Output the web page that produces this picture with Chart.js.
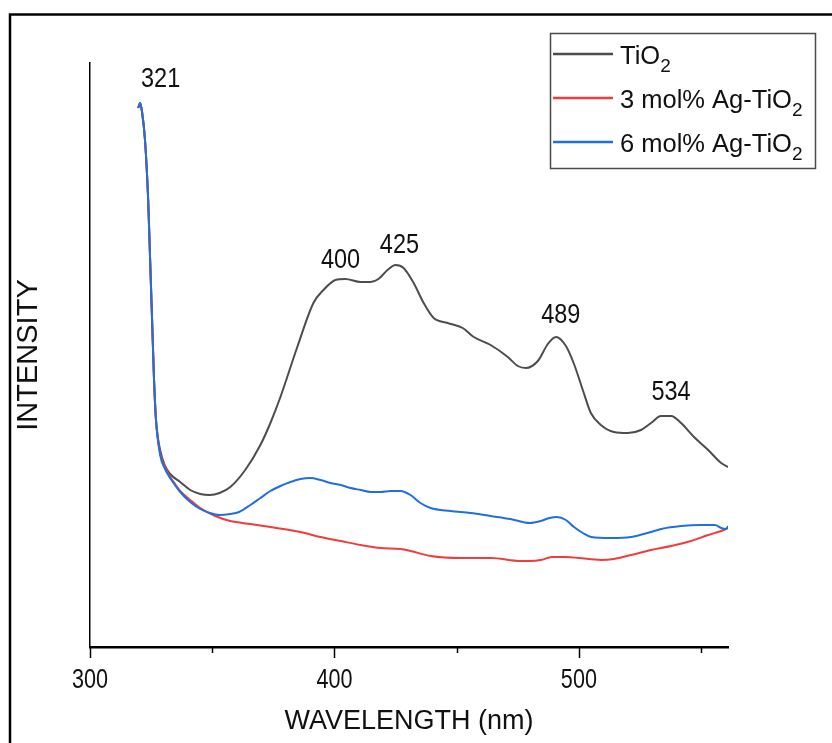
<!DOCTYPE html>
<html>
<head>
<meta charset="utf-8">
<script src="https://cdn.jsdelivr.net/npm/chart.js@4"></script>
<style>
html,body{margin:0;padding:0;background:#fff;}
#c{display:block;}
</style>
</head>
<body>
<canvas id="c" width="832" height="743"></canvas>
<script>
// ---- data (x: wavelength nm, y: intensity, arbitrary units) ----
const seriesNames = ['TiO₂', '3 mol% Ag-TiO₂', '6 mol% Ag-TiO₂'];
const seriesColors = ['#4d4d4d', '#f03c3c', '#1f6fe0'];

const wlTiO2 = [319.7,320.5,321.3,322.5,323.8,324.6,325.4,326.2,327.0,328.7,330.7,332.8,336.9,341.0,345.1,349.0,353.0,357.4,363.5,369.7,373.8,377.9,384.8,391.4,395.5,400.4,404.5,410.7,414.8,418.0,421.7,425.0,428.3,432.4,436.5,440.6,446.3,452.5,457.0,463.9,470.9,475.0,478.3,483.2,487.3,490.6,494.7,498.0,501.6,504.9,509.0,514.3,520.1,525.4,529.5,533.6,537.7,541.8,547.1,552.9,558.2,561.1];
const inTiO2 = [539,544,535,507,447,387,327,267,227,197,181,173,165,157,153,152,154,160,177,202,224,250,300,344,357,367,368,365,365,368,377,382,379,364,344,329,324,319,310,302,290,281,279,286,303,310,301,283,257,234,222,215,214,217,224,231,231,224,210,197,184,180];

const wlAg3 = [319.7,320.5,321.3,322.5,323.8,324.6,325.4,326.2,327.0,328.7,330.7,332.8,334.8,336.9,341.0,345.1,351.2,357.4,365.6,373.8,386.1,394.3,402.5,410.7,418.9,427.0,431.1,439.3,451.6,463.9,476.2,480.0,484.4,489.0,494.7,500.0,509.0,514.3,521.3,529.5,537.7,545.9,552.9,558.2,561.1];
const inAg3 = [539,544,535,507,447,387,327,267,227,194,180,170,163,156,147,139,131,126,123,120,115,110,106,102,99,98,96,91,89,89,86,86,87,90,90,89,87,88,92,97,101,106,112,116,119];

const wlAg6 = [319.7,320.5,321.3,322.5,323.8,324.6,325.4,326.2,327.0,328.7,330.7,332.8,336.9,341.0,345.1,349.0,353.0,357.4,361.0,365.6,369.7,373.8,377.9,382.0,386.1,390.2,394.3,398.4,402.5,406.6,410.7,414.8,418.9,423.0,427.0,431.1,435.2,439.3,447.5,455.7,463.9,472.0,480.0,484.4,488.0,491.0,494.7,498.0,501.6,505.0,513.1,521.3,529.5,533.6,541.8,550.0,555.7,558.2,560.2,561.1];
const inAg6 = [539,544,535,507,447,387,327,267,227,192,178,169,155,145,138,134,132,133,135,142,149,156,161,165,168,169,167,164,162,159,157,155,155,156,156,152,144,139,136,134,131,128,124,126,129,130,127,120,114,110,109,110,115,118,121,122,122,119,118,121];

const majorTicks = [300, 400, 500];
const minorTicks = [350, 450, 550];
const xMin = 300, xMax = 561;
const yMin = 0, yMax = 584;

const peakLabels = ['321', '400', '425', '489', '534'];
const peakLabelX = [328.9, 402.5, 426.6, 492.6, 537.7];
const peakLabelY = [570, 389, 404, 334, 257];

const xTitle = 'WAVELENGTH (nm)';
const yTitle = 'INTENSITY';

// ---- build datasets ----
function pts(xs, ys){ return xs.map((x,i)=>({x:x, y:ys[i]})); }
const allX = [wlTiO2, wlAg3, wlAg6];
const allY = [inTiO2, inAg3, inAg6];
const datasets = seriesNames.map((n,i)=>({
  label: n,
  data: pts(allX[i], allY[i]),
  borderColor: seriesColors[i],
  backgroundColor: seriesColors[i],
  borderWidth: 2,
  pointRadius: 0,
  cubicInterpolationMode: 'monotone',
  fill: false,
  order: 3 - i
}));

const REG = "'Liberation Sans',Arial,sans-serif";

function condensedText(ctx, text, x, y, squeeze){
  ctx.save();
  ctx.translate(x, y);
  ctx.scale(squeeze, 1);
  ctx.fillText(text, 0, 0);
  ctx.restore();
}

const decor = {
  id: 'decor',
  afterDraw(chart){
    const ctx = chart.ctx;
    const xs = chart.scales.x, ys = chart.scales.y;
    const base = chart.chartArea.bottom;
    ctx.save();
    // x ticks (major long, minor short)
    ctx.strokeStyle = '#000';
    ctx.lineWidth = 1.5;
    majorTicks.forEach(v=>{
      const p = Math.round(xs.getPixelForValue(v)) + 0.5;
      ctx.beginPath(); ctx.moveTo(p, base); ctx.lineTo(p, base + 11); ctx.stroke();
    });
    minorTicks.forEach(v=>{
      const p = Math.round(xs.getPixelForValue(v)) + 0.5;
      ctx.beginPath(); ctx.moveTo(p, base); ctx.lineTo(p, base + 6); ctx.stroke();
    });
    // tick labels (condensed)
    ctx.fillStyle = '#111';
    ctx.font = '27px ' + REG;
    ctx.textAlign = 'center';
    ctx.textBaseline = 'alphabetic';
    majorTicks.forEach(v=>{
      condensedText(ctx, String(v), xs.getPixelForValue(v), base + 41, 0.8);
    });
    // peak labels
    peakLabels.forEach((t,i)=>{
      condensedText(ctx, t, xs.getPixelForValue(peakLabelX[i]), ys.getPixelForValue(peakLabelY[i]) + 10, 0.87);
    });
    // legend
    const bx = 550, by = 33, bw = 265, bh = 135;
    ctx.fillStyle = '#fff';
    ctx.fillRect(bx, by, bw, bh);
    ctx.strokeStyle = '#4a4a4a';
    ctx.lineWidth = 1.5;
    ctx.strokeRect(bx + 0.5, by + 0.5, bw, bh);
    chart.data.datasets.forEach((ds,i)=>{
      const baseline = 64 + i * 44;
      const ly = baseline - 10;
      ctx.strokeStyle = ds.borderColor;
      ctx.lineWidth = 2.5;
      ctx.beginPath(); ctx.moveTo(553, ly); ctx.lineTo(613, ly); ctx.stroke();
      ctx.fillStyle = '#111';
      ctx.textAlign = 'left';
      ctx.textBaseline = 'alphabetic';
      const parts = ds.label.split('₂');
      ctx.font = '25.5px ' + REG;
      ctx.fillText(parts[0], 620, baseline);
      const w = ctx.measureText(parts[0]).width;
      ctx.font = '19px ' + REG;
      ctx.fillText('2', 620 + w, baseline + 8);
    });
    // outer frame
    ctx.strokeStyle = '#000';
    ctx.lineWidth = 2.5;
    ctx.beginPath();
    ctx.moveTo(10, 743); ctx.lineTo(10, 14.5); ctx.lineTo(832, 14.5);
    ctx.stroke();
    ctx.restore();
  }
};

new Chart(document.getElementById('c'), {
  type: 'line',
  data: { datasets },
  options: {
    responsive: false,
    animation: false,
    devicePixelRatio: 1,
    layout: { padding: { left: 0, top: 63, right: 104, bottom: 0 } },
    plugins: { legend: { display: false }, tooltip: { enabled: false } },
    scales: {
      x: {
        type: 'linear', min: xMin, max: xMax,
        afterFit(s){ s.height = 96; },
        grid: { display: false, drawTicks: false },
        border: { display: true, color: '#000', width: 2.5 },
        ticks: { display: false },
        title: { display: true, text: xTitle, color: '#111', font: { family: REG, size: 27 }, padding: { top: 0, bottom: 5 } }
      },
      y: {
        type: 'linear', min: yMin, max: yMax,
        afterFit(s){ s.width = 90; },
        grid: { display: false, drawTicks: false },
        border: { display: true, color: '#000', width: 1.5 },
        ticks: { display: false },
        title: { display: true, text: yTitle, color: '#111', font: { family: REG, size: 29 }, padding: { top: 12, bottom: 0 } }
      }
    }
  },
  plugins: [decor]
});
</script>
</body>
</html>
